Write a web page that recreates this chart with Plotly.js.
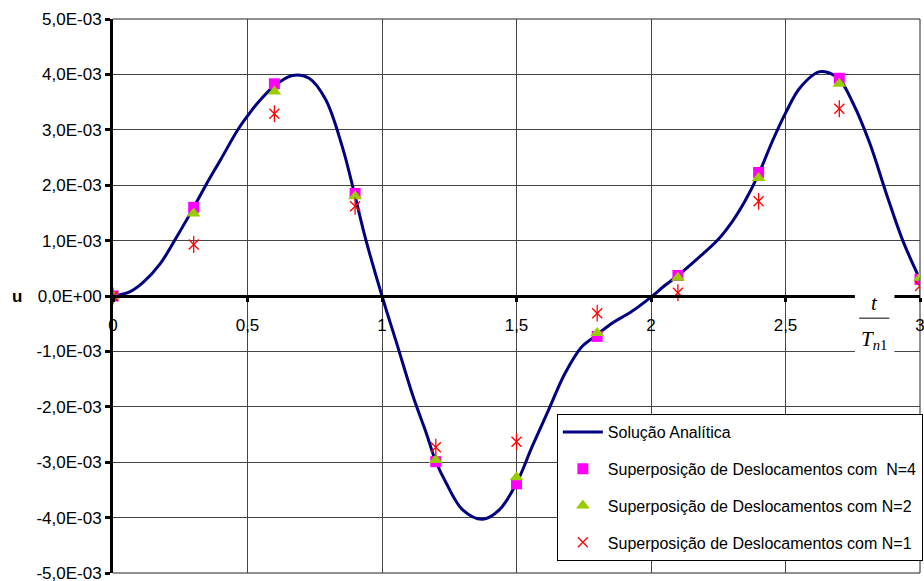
<!DOCTYPE html>
<html>
<head>
<meta charset="utf-8">
<script src="https://cdn.plot.ly/plotly-3.0.1.min.js"></script>
<style>
  html, body { margin: 0; padding: 0; background: #fff; }
  #chart { width: 924px; height: 581px; }
</style>
</head>
<body>
<div id="chart"></div>
<script>
// Analytic displacement response u(t/Tn1)
const analyticT = [0, 0.064, 0.113, 0.175, 0.236, 0.3, 0.345, 0.4, 0.464, 0.5, 0.544, 0.602, 0.667, 0.729,
  0.79, 0.852, 0.895, 0.938, 1.0, 1.055, 1.116, 1.165, 1.198, 1.239, 1.3, 1.374, 1.436, 1.5, 1.558, 1.619,
  1.68, 1.742, 1.797, 1.852, 1.925, 2.0, 2.049, 2.105, 2.172, 2.246, 2.3, 2.35, 2.4, 2.45, 2.5, 2.554, 2.628,
  2.696, 2.751, 2.813, 2.874, 2.936, 3.0];
const analyticU = [0, 0.08e-3, 0.25e-3, 0.58e-3, 1.06e-3, 1.60e-3, 2.0e-3, 2.46e-3, 3.0e-3, 3.25e-3, 3.52e-3,
  3.80e-3, 3.98e-3, 3.93e-3, 3.55e-3, 2.70e-3, 1.90e-3, 1.05e-3, 0, -0.86e-3, -1.82e-3, -2.48e-3, -2.96e-3,
  -3.38e-3, -3.86e-3, -4.03e-3, -3.86e-3, -3.38e-3, -2.72e-3, -2.06e-3, -1.40e-3, -0.92e-3, -0.71e-3,
  -0.50e-3, -0.29e-3, -0.02e-3, 0.18e-3, 0.39e-3, 0.67e-3, 1.0e-3, 1.33e-3, 1.72e-3, 2.2e-3, 2.78e-3, 3.30e-3,
  3.76e-3, 4.05e-3, 3.93e-3, 3.48e-3, 2.76e-3, 1.86e-3, 1.0e-3, 0.30e-3];

// Superposition of displacements, sampled every 0.3 Tn1
const sampleT = [0, 0.3, 0.6, 0.9, 1.2, 1.5, 1.8, 2.1, 2.4, 2.7, 3.0];
const uN4 = [0, 1.60e-3, 3.83e-3, 1.85e-3, -2.99e-3, -3.39e-3, -0.73e-3, 0.37e-3, 2.23e-3, 3.93e-3, 0.30e-3];
const uN2 = [0, 1.49e-3, 3.69e-3, 1.80e-3, -2.96e-3, -3.27e-3, -0.67e-3, 0.33e-3, 2.13e-3, 3.83e-3, 0.33e-3];
const uN1 = [0, 0.93e-3, 3.29e-3, 1.62e-3, -2.73e-3, -2.63e-3, -0.31e-3, 0.06e-3, 1.71e-3, 3.38e-3, 0.18e-3];

const seriesNames = [
  'Solução Analítica',
  'Superposição de Deslocamentos com\u00a0 N=4',
  'Superposição de Deslocamentos com N=2',
  'Superposição de Deslocamentos com N=1'
];

const xTickVals = [0, 0.5, 1, 1.5, 2, 2.5, 3];
const xTickText = ['0', '0,5', '1', '1,5', '2', '2,5', '3'];
const yTickVals = [5e-3, 4e-3, 3e-3, 2e-3, 1e-3, 0, -1e-3, -2e-3, -3e-3, -4e-3, -5e-3];
const yTickText = ['5,0E-03', '4,0E-03', '3,0E-03', '2,0E-03', '1,0E-03', '0,0E+00',
  '-1,0E-03', '-2,0E-03', '-3,0E-03', '-4,0E-03', '-5,0E-03'];

const FONT = 'Liberation Sans, Arial, sans-serif';
const SERIF = 'Liberation Serif, Times New Roman, serif';

const traces = [
  {
    x: analyticT, y: analyticU, name: seriesNames[0], type: 'scatter', mode: 'lines',
    line: { color: '#000080', width: 3, shape: 'spline', smoothing: 1 },
    legendgroup: 'a'
  },
  {
    x: sampleT, y: uN4, name: seriesNames[1], type: 'scatter', mode: 'markers',
    marker: { symbol: 'square', size: 11, color: '#FF00FF' },
    legendgroup: 'b'
  },
  {
    x: sampleT, y: uN2, name: seriesNames[2], type: 'scatter', mode: 'markers',
    marker: { symbol: 'triangle-up', size: 12, color: '#99CC00' },
    legendgroup: 'c'
  },
  {
    x: sampleT, y: uN1, name: seriesNames[3], type: 'scatter', mode: 'markers',
    marker: { symbol: 'x-thin-open', size: 10, color: '#FF0000', line: { color: '#FF0000', width: 1.3 } },
    legendgroup: 'd'
  },
  {
    x: sampleT, y: uN1, name: seriesNames[3], type: 'scatter', mode: 'markers', showlegend: false,
    marker: { symbol: 'line-ns-open', size: 12, color: '#FF0000', line: { color: '#FF0000', width: 1.3 } },
    legendgroup: 'd', hoverinfo: 'skip'
  }
];

const layout = {
  width: 924, height: 581,
  margin: { l: 113, r: 4, t: 19, b: 8, autoexpand: false },
  paper_bgcolor: '#ffffff', plot_bgcolor: '#ffffff',
  font: { family: FONT, size: 16, color: '#000' },
  showlegend: true,
  legend: {
    x: 0.55, y: 0.287, xanchor: 'left', yanchor: 'top',
    bgcolor: '#ffffff', bordercolor: '#000', borderwidth: 1,
    font: { family: FONT, size: 16, color: '#000' },
    traceorder: 'grouped', tracegroupgap: 13, itemwidth: 40
  },
  xaxis: {
    range: [0, 3], anchor: 'free', position: 0.5,
    tickvals: xTickVals, ticktext: xTickText,
    tickfont: { family: FONT, size: 17, color: '#000' },
    ticklabelstandoff: 9, ticklabeloverflow: 'allow',
    showgrid: true, gridcolor: '#444', gridwidth: 1,
    showline: true, linecolor: '#000', linewidth: 3,
    ticks: 'outside', ticklen: 4, tickwidth: 3, tickcolor: '#000',
    zeroline: false, fixedrange: true
  },
  yaxis: {
    range: [-5e-3, 5e-3],
    tickvals: yTickVals, ticktext: yTickText,
    tickfont: { family: FONT, size: 17, color: '#000' },
    ticklabeloverflow: 'allow',
    showgrid: true, gridcolor: '#444', gridwidth: 1,
    showline: true, linecolor: '#000', linewidth: 3,
    ticks: 'outside', ticklen: 5, tickwidth: 3, tickcolor: '#000',
    zeroline: false, fixedrange: true
  },
  shapes: [
    // plot frame at the range limits (top, bottom, right)
    { type: 'line', xref: 'paper', yref: 'paper', x0: 0, x1: 1, y0: 1, y1: 1,
      line: { color: '#222', width: 1 }, layer: 'below' },
    { type: 'line', xref: 'paper', yref: 'paper', x0: 0, x1: 1, y0: 0, y1: 0,
      line: { color: '#222', width: 1 }, layer: 'below' },
    { type: 'line', xref: 'paper', yref: 'paper', x0: 1, x1: 1, y0: 0, y1: 1,
      line: { color: '#222', width: 1 }, layer: 'below' },
    // white gap behind the axis variable label
    { type: 'rect', xref: 'x', yref: 'y', x0: 2.758, x1: 2.905, y0: 0.15e-3, y1: -1.1e-3,
      fillcolor: '#ffffff', line: { width: 0 }, layer: 'above' },
    // fraction bar of t / Tn1
    { type: 'line', xref: 'x', yref: 'y', x0: 2.774, x1: 2.886, y0: -0.40e-3, y1: -0.40e-3,
      line: { color: '#000', width: 1 }, layer: 'above' }
  ],
  annotations: [
    { xref: 'paper', yref: 'y', x: -0.1276, y: 0, xanchor: 'left', yanchor: 'middle',
      text: '<b>u</b>', showarrow: false, font: { family: FONT, size: 17, color: '#000' } },
    { xref: 'x', yref: 'y', x: 2.832, y: -0.13e-3, xanchor: 'center', yanchor: 'middle',
      text: '<i>t</i>', showarrow: false, font: { family: SERIF, size: 21, color: '#000' } },
    { xref: 'x', yref: 'y', x: 2.83, y: -0.80e-3, xanchor: 'center', yanchor: 'middle',
      text: '<i>T</i><sub><i>n</i>1</sub>', showarrow: false, font: { family: SERIF, size: 21, color: '#000' } }
  ]
};

Plotly.newPlot('chart', traces, layout, { displayModeBar: false, staticPlot: true });
</script>
</body>
</html>
